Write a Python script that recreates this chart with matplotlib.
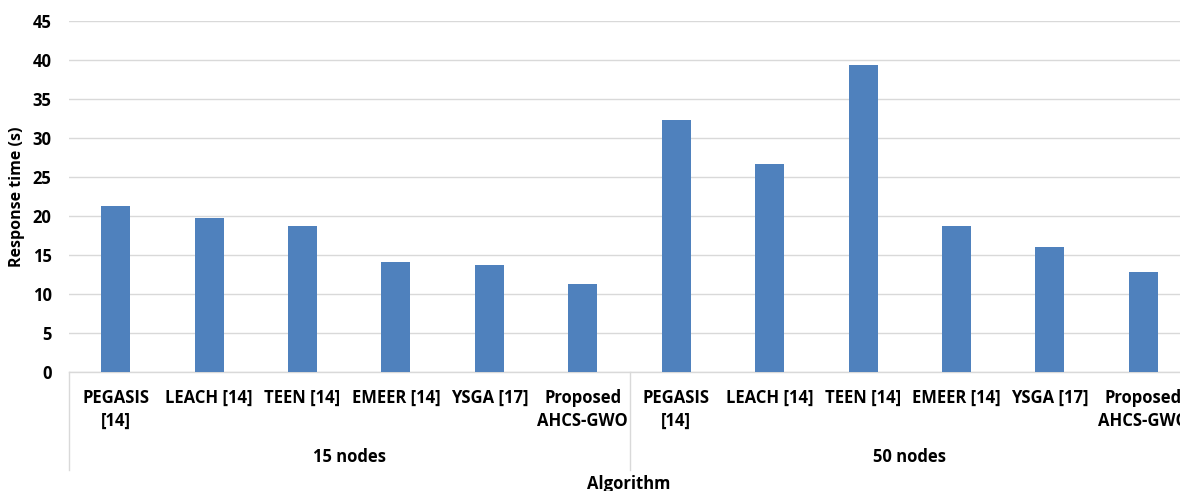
import matplotlib
matplotlib.use("Agg")
import matplotlib.pyplot as plt
import matplotlib.transforms as mtransforms
from matplotlib.lines import Line2D

# Data
groups = ["15 nodes", "50 nodes"]
algorithms = ["PEGASIS\n[14]", "LEACH [14]", "TEEN [14]", "EMEER [14]",
              "YSGA [17]", "Proposed\nAHCS-GWO"]
times_15 = [21.3, 19.8, 18.8, 14.2, 13.7, 11.35]
times_50 = [32.3, 26.7, 39.4, 18.8, 16.1, 12.9]
y_ticks = [0, 5, 10, 15, 20, 25, 30, 35, 40, 45]

plt.rcParams["font.family"] = ["Open Sans", "DejaVu Sans"]
plt.rcParams["font.weight"] = "bold"

W, H = 1180, 491
fig = plt.figure(figsize=(W / 100, H / 100), dpi=100)

# axes in pixel terms: left 69, right ~1190 (cropped), top 21.3, bottom 372.3
ax = fig.add_axes([69 / W, 1 - 372.3 / H, (1190 - 69) / W, (372.3 - 21.3) / H])

values = times_15 + times_50
labels = algorithms + algorithms
x = list(range(len(values)))

bar_color = "#4F81BD"
grid_color = "#D9D9D9"
fs = 12

ax.bar(x, values, width=0.31, color=bar_color, zorder=3)

ax.set_xlim(-0.5, len(values) - 0.5)
ax.set_ylim(0, 45)
ax.set_yticks(y_ticks)
ax.yaxis.grid(True, color=grid_color, linewidth=1.0, zorder=0)
ax.set_axisbelow(True)
for s in ["top", "right", "left"]:
    ax.spines[s].set_visible(False)
ax.spines["bottom"].set_color(grid_color)
ax.spines["bottom"].set_linewidth(1.0)
ax.tick_params(axis="y", length=0, pad=12.5, labelsize=fs, labelcolor="black")
ax.tick_params(axis="x", length=0)
ax.set_xticks([])

# y axis title
fig.text(17.5 / W, 1 - 197 / H, "Response time (s)", rotation=90,
         ha="center", va="center", fontsize=11.5, fontweight="bold")

# category labels (data x, figure y)
trans = mtransforms.blended_transform_factory(ax.transData, fig.transFigure)
for xi, lab in zip(x, labels):
    for k, line in enumerate(lab.split("\n")):
        ax.text(xi, 1 - (398 + 23.3 * k) / H, line, transform=trans,
                ha="center", va="center", fontsize=fs, fontweight="bold",
                clip_on=False)

# group labels and separators
n = len(algorithms)
for g, name in enumerate(groups):
    centre = g * n + (n - 1) / 2
    ax.text(centre, 1 - 457 / H, name, transform=trans, ha="center",
            va="center", fontsize=fs, fontweight="bold", clip_on=False)
for g in range(len(groups) + 1):
    xs = g * n - 0.5
    ax.add_line(Line2D([xs, xs], [1 - 372.3 / H, 1 - 470 / H],
                       transform=trans, color=grid_color, linewidth=1.0,
                       clip_on=False))

fig.text(629 / W, 1 - 489 / H, "Algorithm", ha="center", va="baseline",
         fontsize=fs, fontweight="bold")

fig.savefig("out.png", dpi=100)
